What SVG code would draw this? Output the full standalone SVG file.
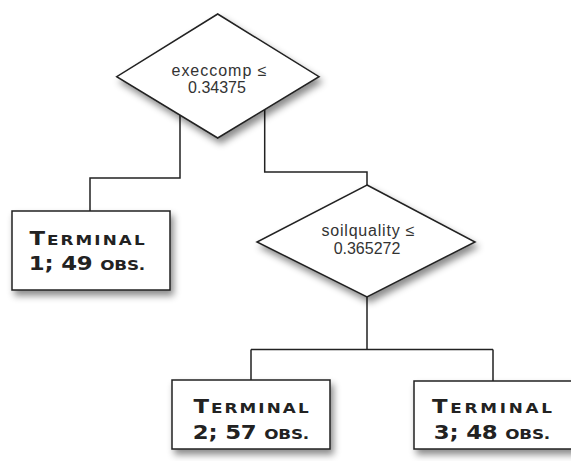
<svg xmlns="http://www.w3.org/2000/svg" width="571" height="461" viewBox="0 0 571 461">
<defs>
<filter id="sh" x="-20%" y="-20%" width="150%" height="160%">
<feDropShadow dx="3" dy="5" stdDeviation="3.5" flood-color="#000" flood-opacity="0.45"/>
</filter>
</defs>
<style>
.shape{fill:#fff;stroke:#222;stroke-width:1.5;filter:url(#sh)}
.conn{fill:none;stroke:#222;stroke-width:1.5}
.dt{font-family:"Liberation Sans",Arial,sans-serif;font-size:16px;fill:#333;text-anchor:middle}
.bt{font-family:"DejaVu Sans",sans-serif;font-weight:bold;font-size:19px;fill:#222;text-anchor:middle}
.sc{font-size:14px}
</style>
<rect width="571" height="461" fill="#fff"/>
<g id="connectors">
<path class="conn" d="M180,100 V178 H90 V211"/>
<path class="conn" d="M264.7,100 V172 H367 V186"/>
<path class="conn" d="M367,280 V349.5 M251,349.5 H493 M251,349.5 V381 M493,349.5 V381"/>
</g>
<g id="node-execcomp">
<polygon class="shape" points="217.7,14 319,76.7 217.7,138 116.7,76.7"/>
<text class="dt" x="219" y="76" textLength="95" lengthAdjust="spacing">execcomp ≤</text>
<text class="dt" x="217" y="93">0.34375</text>
</g>
<g id="node-soilquality">
<polygon class="shape" points="367,185 475,242 367,297 257,242"/>
<text class="dt" x="368" y="236" textLength="93" lengthAdjust="spacing">soilquality ≤</text>
<text class="dt" x="367" y="254">0.365272</text>
</g>
<g id="node-terminal1">
<rect class="shape" x="12" y="211" width="158" height="79"/>
<text class="bt" transform="translate(87,245) scale(1.2,1)" textLength="96" lengthAdjust="spacing">T<tspan class="sc">ERMINAL</tspan></text>
<text class="bt" transform="translate(87,270) scale(1.2,1)" textLength="97" lengthAdjust="spacing">1; 49 <tspan class="sc">OBS.</tspan></text>
</g>
<g id="node-terminal2">
<rect class="shape" x="172" y="380" width="158" height="69"/>
<text class="bt" transform="translate(251,413) scale(1.2,1)" textLength="96" lengthAdjust="spacing">T<tspan class="sc">ERMINAL</tspan></text>
<text class="bt" transform="translate(251,439) scale(1.2,1)" textLength="97" lengthAdjust="spacing">2; 57 <tspan class="sc">OBS.</tspan></text>
</g>
<g id="node-terminal3">
<rect class="shape" x="414" y="381" width="160" height="68"/>
<text class="bt" transform="translate(492,413) scale(1.2,1)" textLength="100" lengthAdjust="spacing">T<tspan class="sc">ERMINAL</tspan></text>
<text class="bt" transform="translate(492,439) scale(1.2,1)" textLength="97" lengthAdjust="spacing">3; 48 <tspan class="sc">OBS.</tspan></text>
</g>
</svg>
